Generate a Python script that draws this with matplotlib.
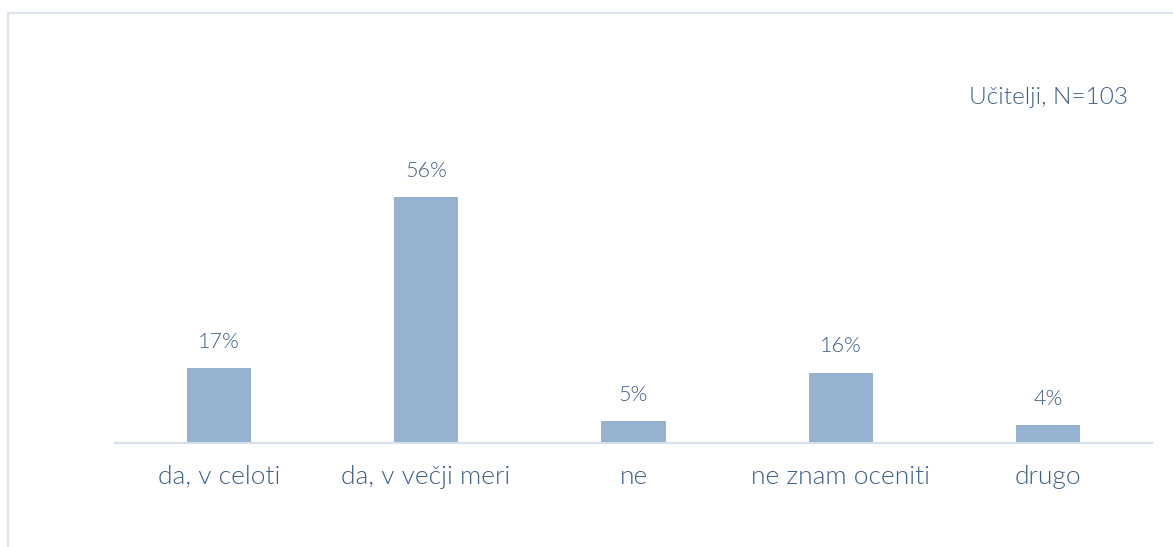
import matplotlib.pyplot as plt
from matplotlib.patches import Rectangle

categories = ["da, v celoti", "da, v večji meri", "ne", "ne znam oceniti", "drugo"]
values = [17, 56, 5, 16, 4]
note = "Učitelji, N=103"

bar_color = "#95b3d0"
text_color = "#3e5f86"
plt.rcParams["font.family"] = ["Lato", "DejaVu Sans"]
plt.rcParams["font.weight"] = 300

fig = plt.figure(figsize=(11.73, 5.47), dpi=100)
fig.patches.append(Rectangle((8 / 1173, -0.1), 1.1, 1 - 13 / 547 + 0.1,
                             transform=fig.transFigure, fill=False,
                             edgecolor="#dae3ef", linewidth=1.5))

ax = fig.add_axes([115 / 1173, 1 - 443 / 547, 1037 / 1173, 383 / 547])
x = range(len(categories))
bars = ax.bar(x, values, width=0.31, color=bar_color)
for rect, v in zip(bars, values):
    ax.annotate(f"{v}%", (rect.get_x() + rect.get_width() / 2, v),
                xytext=(0, 19), textcoords="offset points",
                ha="center", va="center", fontsize=15.5, color=text_color)

ax.set_xlim(-0.5, len(categories) - 0.5)
ax.set_ylim(0, 87.2)
ax.set_xticks(list(x))
ax.set_xticklabels(categories, fontsize=19, color=text_color)
ax.tick_params(axis="x", length=0, pad=16)
ax.set_yticks([])
for side in ["top", "right", "left"]:
    ax.spines[side].set_visible(False)
ax.spines["bottom"].set_color("#d6e0ec")
ax.spines["bottom"].set_linewidth(1.5)

fig.text(1128 / 1173, 1 - 97 / 547, note, ha="right", va="center",
         fontsize=17.6, color=text_color)

plt.savefig("out.png", dpi=100)
